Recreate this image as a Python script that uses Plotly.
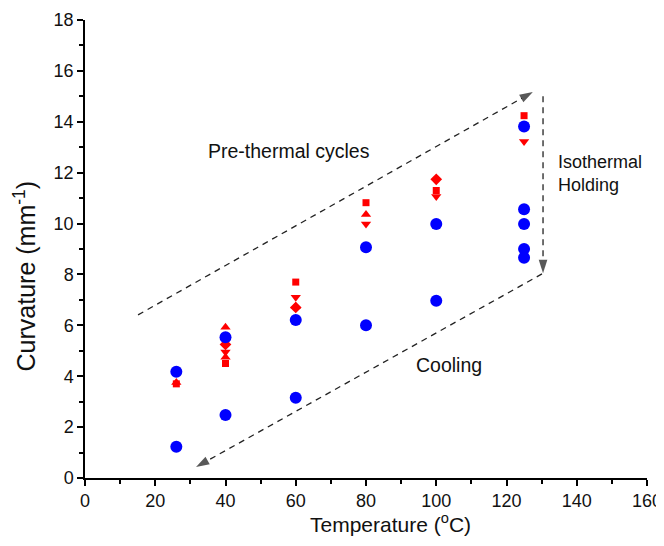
import plotly.graph_objects as go

temps = [26, 40, 60, 80, 100, 125]
red_square = [3.70, 4.50, 7.70, 10.82, 11.30, 14.24]
red_tri_up = [3.75, 5.92, 6.75, 10.36, None, None]
red_tri_down = [None, 4.95, 7.10, 9.98, 11.06, 13.22]
red_diamond = [None, 5.25, 6.70, None, 11.74, None]
red_hourglass_up = [None, 4.75, None, None, None, None]

blue_temps = [26, 40, 60, 80, 100, 125, 125, 125, 125, 125, 100, 80, 60, 40, 26]
blue_curv = [4.18, 5.53, 6.21, 9.07, 9.98, 13.81, 10.56, 9.98, 9.00, 8.66, 6.97, 6.00, 3.15, 2.48, 1.23]

x_ticks = [0, 20, 40, 60, 80, 100, 120, 140, 160]
y_ticks = [0, 2, 4, 6, 8, 10, 12, 14, 16, 18]

# arrows: (x_start, y_start, x_end, y_end)
arrows = [
    (15.1, 6.41, 127.5, 15.17),
    (130.4, 15.0, 130.4, 8.05),
    (130.1, 8.02, 31.6, 0.43),
]

labels = [
    ("Pre-thermal cycles", 58.2, 12.85, "center", 19.5),
    ("Isothermal<br>Holding", 134.1, 11.95, "left", 18),
    ("Cooling", 103.6, 4.44, "center", 19.5),
]

x_title = "Temperature (<sup>o</sup>C)"
y_title = "Curvature (mm<sup>-1</sup>)"

RED = "#ff0000"
BLUE = "#0000ff"
FONT = "Liberation Sans, Arial, sans-serif"

fig = go.Figure()

def red_trace(vals, symbol, size=8):
    xs = [t for t, v in zip(temps, vals) if v is not None]
    ys = [v for v in vals if v is not None]
    fig.add_trace(go.Scatter(x=xs, y=ys, mode="markers",
                             marker=dict(symbol=symbol, size=size, color=RED, line=dict(width=0)),
                             showlegend=False))

red_trace(red_square, "square", 7)
red_trace(red_tri_up, "triangle-up", 9)
red_trace(red_tri_down, "triangle-down", 9)
red_trace(red_diamond, "diamond", 9)
red_trace(red_hourglass_up, "triangle-up", 9)

fig.add_trace(go.Scatter(x=blue_temps, y=blue_curv, mode="markers",
                         marker=dict(symbol="circle", size=12, color=BLUE, line=dict(width=0)),
                         showlegend=False))

for (x0, y0, x1, y1) in arrows:
    fig.add_trace(go.Scatter(x=[x0, x1], y=[y0, y1], mode="lines+markers",
                             line=dict(color="#222222", width=1.3, dash="6px,5px"),
                             marker=dict(symbol=["circle", "arrow"], size=[0, 14],
                                         angleref="previous", color="#111111", line=dict(width=0)),
                             hoverinfo="skip", showlegend=False))

for (txt, x, y, al, fs) in labels:
    fig.add_annotation(x=x, y=y, xref="x", yref="y", text=txt, showarrow=False,
                       xanchor=al, align="left", font=dict(size=fs, color="#111111", family=FONT))

# axis titles as annotations for precise placement
fig.add_annotation(x=0.543, y=0, xref="paper", yref="paper", yshift=-45, text=x_title,
                   showarrow=False, xanchor="center", yanchor="middle",
                   font=dict(size=21, color="#111111", family=FONT))
fig.add_annotation(x=0, y=0.44, xref="paper", yref="paper", xshift=-60, text=y_title,
                   showarrow=False, xanchor="center", yanchor="middle", textangle=-90,
                   font=dict(size=25, color="#111111", family=FONT))

axis_common = dict(showline=True, linecolor="black", linewidth=1.5, ticks="outside",
                   ticklen=6, tickwidth=1.5, tickcolor="black", showgrid=False, zeroline=False,
                   tickfont=dict(size=18, color="#111111", family=FONT), mirror=False)

fig.update_xaxes(range=[0, 160], tickvals=x_ticks,
                 minor=dict(ticks="outside", ticklen=4, tickwidth=1.5, tickcolor="black", dtick=10, showgrid=False),
                 **axis_common)
fig.update_yaxes(range=[0, 18], tickvals=y_ticks,
                 minor=dict(ticks="outside", ticklen=4, tickwidth=1.5, tickcolor="black", dtick=1, showgrid=False),
                 **axis_common)

fig.update_layout(width=664, height=546, margin=dict(l=77, r=25, t=12, b=76, autoexpand=False),
                  plot_bgcolor="white", paper_bgcolor="white", showlegend=False)

fig.write_html("out.html")
